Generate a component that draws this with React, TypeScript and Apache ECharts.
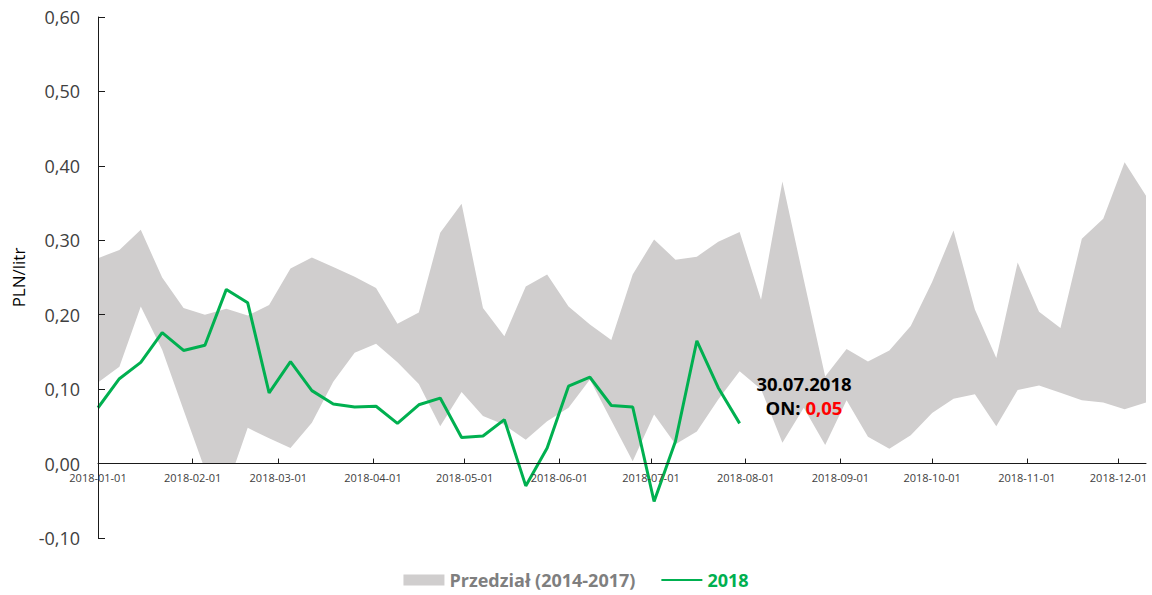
import React, { useEffect, useRef } from "react";
import * as echarts from "echarts";

// Weekly observation dates (Mondays of 2018)
const WEEKS: string[] = [
  "2018-01-01", "2018-01-08", "2018-01-15", "2018-01-22", "2018-01-29",
  "2018-02-05", "2018-02-12", "2018-02-19", "2018-02-26", "2018-03-05",
  "2018-03-12", "2018-03-19", "2018-03-26", "2018-04-02", "2018-04-09",
  "2018-04-16", "2018-04-23", "2018-04-30", "2018-05-07", "2018-05-14",
  "2018-05-21", "2018-05-28", "2018-06-04", "2018-06-11", "2018-06-18",
  "2018-06-25", "2018-07-02", "2018-07-09", "2018-07-16", "2018-07-23",
  "2018-07-30", "2018-08-06", "2018-08-13", "2018-08-20", "2018-08-27",
  "2018-09-03", "2018-09-10", "2018-09-17", "2018-09-24", "2018-10-01",
  "2018-10-08", "2018-10-15", "2018-10-22", "2018-10-29", "2018-11-05",
  "2018-11-12", "2018-11-19", "2018-11-26", "2018-12-03", "2018-12-10",
];

// Upper bound of the 2014-2017 range
const RANGE_MAX: number[] = [
  0.276, 0.287, 0.314, 0.250, 0.209, 0.200, 0.208, 0.199, 0.213, 0.262,
  0.277, 0.264, 0.251, 0.236, 0.188, 0.203, 0.310, 0.349, 0.209, 0.171,
  0.238, 0.254, 0.211, 0.187, 0.166, 0.254, 0.301, 0.274, 0.278, 0.298,
  0.311, 0.220, 0.379, 0.247, 0.117, 0.154, 0.137, 0.152, 0.185, 0.244,
  0.313, 0.207, 0.142, 0.270, 0.204, 0.182, 0.302, 0.329, 0.405, 0.360,
];

// Lower bound of the 2014-2017 range
const RANGE_MIN: number[] = [
  0.109, 0.130, 0.211, 0.153, 0.072, -0.008, -0.035, 0.048, 0.034, 0.021,
  0.055, 0.110, 0.149, 0.161, 0.136, 0.107, 0.050, 0.096, 0.064, 0.052,
  0.032, 0.057, 0.075, 0.113, 0.058, 0.003, 0.066, 0.026, 0.043, 0.086,
  0.124, 0.100, 0.028, 0.075, 0.025, 0.085, 0.036, 0.020, 0.038, 0.068,
  0.087, 0.093, 0.050, 0.099, 0.105, 0.095, 0.085, 0.082, 0.073, 0.082,
];

// 2018 values (until 30.07.2018)
const Y2018: number[] = [
  0.075, 0.114, 0.136, 0.176, 0.152, 0.159, 0.234, 0.216, 0.095, 0.137,
  0.098, 0.080, 0.076, 0.077, 0.054, 0.079, 0.088, 0.035, 0.037, 0.059,
  -0.030, 0.021, 0.104, 0.116, 0.078, 0.076, -0.051, 0.030, 0.165, 0.102,
  0.054,
];

const MONTH_TICKS: string[] = [
  "2018-01-01", "2018-02-01", "2018-03-01", "2018-04-01", "2018-05-01",
  "2018-06-01", "2018-07-01", "2018-08-01", "2018-09-01", "2018-10-01",
  "2018-11-01", "2018-12-01",
];

const Y_MIN = -0.1;
const Y_MAX = 0.6;
const Y_STEP = 0.1;

const LEGEND_RANGE = "Przedział (2014-2017)";
const LEGEND_2018 = "2018";
const ANNOT_PREFIX = "ON:";

const GRAY = "#d0cece";
const GREEN = "#00b050";
const FONT = "'Open Sans', 'Noto Sans', sans-serif";

const GRID_TOP = 17;
const GRID_BOTTOM = 57;
const CHART_H = 595;

const ts = (s: string): number => {
  const [y, m, d] = s.split("-").map(Number);
  return Date.UTC(y, m - 1, d);
};
const pad = (n: number) => (n < 10 ? "0" + n : "" + n);
const fmtDate = (v: number) => {
  const d = new Date(v);
  return `${d.getUTCFullYear()}-${pad(d.getUTCMonth() + 1)}-${pad(d.getUTCDate())}`;
};
const fmtDatePl = (s: string) => {
  const [y, m, d] = s.split("-");
  return `${d}.${m}.${y}`;
};
const fmtNum = (v: number) => v.toFixed(2).replace(".", ",");

export default function App() {
  const ref = useRef<HTMLDivElement>(null);

  useEffect(() => {
    if (!ref.current) return;
    const chart = echarts.init(ref.current, undefined, { renderer: "svg" });

    const upper = WEEKS.map((w, i) => [ts(w), RANGE_MAX[i]]);
    const lower = WEEKS.map((w, i) => [ts(w), RANGE_MIN[i]]);
    const line = Y2018.map((v, i) => [ts(WEEKS[i]), v]);
    const lastIdx = Y2018.length - 1;
    const monthVals = MONTH_TICKS.map(ts);

    // place the category (time) axis at the zero level of the value axis
    const gridH = CHART_H - GRID_TOP - GRID_BOTTOM;
    const zeroOffset = -gridH * (0 - Y_MIN) / (Y_MAX - Y_MIN);

    chart.setOption({
      animation: false,
      backgroundColor: "#ffffff",
      grid: {
        left: 98,
        right: 6,
        top: GRID_TOP,
        bottom: GRID_BOTTOM,
        containLabel: false,
        outerBoundsMode: "none",
      },
      legend: {
        top: 566,
        left: "center",
        itemWidth: 41,
        itemHeight: 11,
        itemGap: 25,
        textStyle: { fontFamily: FONT, fontSize: 18, fontWeight: "bold" },
        data: [
          {
            name: LEGEND_RANGE,
            icon: "rect",
            itemStyle: { color: GRAY },
            textStyle: { color: "#7f7f7f" },
          },
          {
            name: LEGEND_2018,
            itemStyle: { opacity: 0 },
            textStyle: { color: GREEN },
          },
        ],
      },
      xAxis: {
        type: "value",
        min: ts(WEEKS[0]),
        max: ts(WEEKS[WEEKS.length - 1]),
        z: 10,
        offset: zeroOffset,
        axisLine: { show: true, onZero: false, lineStyle: { color: "#1a1a1a", width: 1 } },
        axisTick: {
          show: true,
          inside: true,
          length: 5,
          lineStyle: { color: "#1a1a1a" },
          customValues: monthVals,
        },
        axisLabel: {
          show: true,
          margin: 8,
          color: "#404040",
          fontFamily: FONT,
          fontSize: 11,
          customValues: monthVals,
          formatter: (v: number) => fmtDate(v),
        },
        splitLine: { show: false },
      },
      yAxis: {
        type: "value",
        min: Y_MIN,
        max: Y_MAX,
        interval: Y_STEP,
        z: 10,
        name: "PLN/litr",
        nameLocation: "middle",
        nameGap: 71,
        nameTextStyle: { color: "#000", fontFamily: FONT, fontSize: 17 },
        axisLine: { show: true, lineStyle: { color: "#1a1a1a", width: 1 } },
        axisTick: { show: true, inside: true, length: 7, lineStyle: { color: "#1a1a1a" } },
        axisLabel: {
          margin: 18,
          color: "#404040",
          fontFamily: FONT,
          fontSize: 18,
          formatter: (v: number) => fmtNum(v),
        },
        splitLine: { show: false },
      },
      series: [
        {
          name: LEGEND_RANGE,
          type: "line",
          data: upper,
          symbol: "none",
          color: GRAY,
          lineStyle: { opacity: 0, width: 0 },
          areaStyle: { color: GRAY, opacity: 1 },
          z: 1,
          silent: true,
        },
        {
          name: "range-lower-mask",
          type: "line",
          data: lower,
          symbol: "none",
          color: "#ffffff",
          lineStyle: { opacity: 0, width: 0 },
          areaStyle: { color: "#ffffff", opacity: 1 },
          z: 2,
          silent: true,
        },
        {
          name: LEGEND_2018,
          type: "line",
          data: line,
          symbol: "none",
          color: GREEN,
          lineStyle: { color: GREEN, width: 3 },
          z: 3,
        },
      ],
      graphic: [
        {
          type: "text",
          x: 804,
          y: 383,
          z: 20,
          style: {
            text: fmtDatePl(WEEKS[lastIdx]),
            fill: "#000",
            font: `bold 18.5px ${FONT}`,
            align: "center",
            verticalAlign: "middle",
          },
        },
        {
          type: "text",
          x: 804,
          y: 407,
          z: 20,
          style: {
            text: `{b|${ANNOT_PREFIX} }{r|${fmtNum(Y2018[lastIdx])}}`,
            align: "center",
            verticalAlign: "middle",
            rich: {
              b: { fill: "#000", fontFamily: FONT, fontSize: 18.5, fontWeight: "bold" },
              r: { fill: "#ff0000", fontFamily: FONT, fontSize: 18.5, fontWeight: "bold" },
            },
          },
        },
      ],
    });

    return () => chart.dispose();
  }, []);

  return (
    <div
      ref={ref}
      style={{ position: "absolute", left: 0, top: 0, width: 1152, height: 595, background: "#fff" }}
    />
  );
}
